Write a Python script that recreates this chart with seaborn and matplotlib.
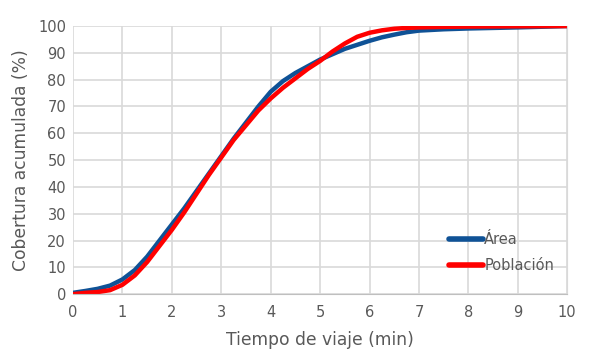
import numpy as np
import pandas as pd
import matplotlib
matplotlib.use("Agg")
import matplotlib.pyplot as plt
import seaborn as sns

# Travel time (min) and cumulative coverage (%)
tiempo = [0, 0.25, 0.5, 0.75, 1, 1.25, 1.5, 1.75, 2, 2.25, 2.5, 2.75, 3, 3.25, 3.5,
          3.75, 4, 4.25, 4.5, 4.75, 5, 5.25, 5.5, 5.75, 6, 6.25, 6.5, 6.75, 7, 7.5, 8, 9, 10]
area = [0.5, 1.2, 2.0, 3.2, 5.5, 9, 14, 20, 26, 32, 38.5, 45, 51.5, 58, 64,
        70, 75.5, 79.5, 82.5, 85, 87.5, 89.5, 91.5, 93, 94.5, 95.8, 96.8, 97.7, 98.3,
        98.8, 99.1, 99.5, 100]
poblacion = [0, 0.5, 0.8, 1.5, 3.5, 7, 12, 18, 24, 30.5, 37.5, 44.5, 51, 57.5, 63,
             68.5, 73, 77, 80.5, 84, 87, 90.5, 93.5, 96, 97.5, 98.4, 99, 99.3, 99.5,
             99.7, 99.8, 99.9, 100]

series = ["Área", "Población"]
colores = ["#0F5296", "#FF0000"]

df = pd.DataFrame({
    "Tiempo": tiempo * 2,
    "Cobertura": area + poblacion,
    "Serie": [series[0]] * len(tiempo) + [series[1]] * len(tiempo),
})

sns.set_style("whitegrid")
plt.rcParams["font.family"] = ["DejaVu Sans"]
gris = "#595959"

fig, ax = plt.subplots(figsize=(5.89, 3.57), dpi=100)
fig.subplots_adjust(left=0.124, right=0.963, top=0.927, bottom=0.176)

sns.lineplot(data=df, x="Tiempo", y="Cobertura", hue="Serie", palette=colores,
             linewidth=3.2, ax=ax)
for ln in ax.lines:
    ln.set_solid_capstyle("round")
    ln.set_solid_joinstyle("round")

ax.set_xlim(0, 10)
ax.set_ylim(0, 100)
ax.set_xticks(range(0, 11))
ax.set_yticks(range(0, 101, 10))
ax.grid(True, color="#D9D9D9", linewidth=1.2)
for s in ax.spines.values():
    s.set_visible(False)
ax.spines["bottom"].set_visible(True)
ax.spines["bottom"].set_color("#BFBFBF")
ax.spines["right"].set_visible(True)
ax.spines["right"].set_color("#D9D9D9")
ax.tick_params(colors=gris, labelsize=10.5, length=0)
ax.tick_params(axis="x", pad=8)
ax.tick_params(axis="y", pad=5)

ax.set_xlabel("Tiempo de viaje (min)", color=gris, fontsize=12.3, labelpad=8)
ax.set_ylabel("Cobertura acumulada (%)", color=gris, fontsize=12.3, labelpad=6)

leg = ax.legend(loc="lower right", bbox_to_anchor=(1.0, 0.03), frameon=False,
                handlelength=2.3, handletextpad=0.1, labelspacing=0.75, fontsize=10.5)
for t in leg.get_texts():
    t.set_color(gris)
for h in leg.get_lines():
    h.set_linewidth(4)

fig.savefig("out.png", dpi=100)
